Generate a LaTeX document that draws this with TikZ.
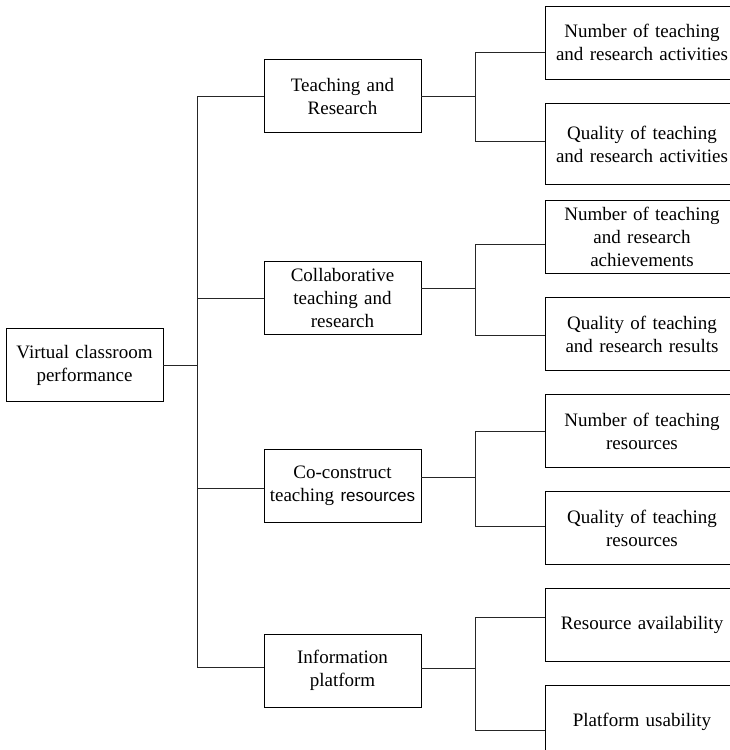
\documentclass[tikz,border=0pt]{standalone}
\usepackage{fontspec}
\setmainfont{Liberation Serif}
\newfontfamily\arialfont{Liberation Sans}
\usepackage{tikz}
\usetikzlibrary{positioning}

\begin{document}
\begin{tikzpicture}[
  x=1pt, y=-1pt,
  node distance=23pt,
  box/.style={rectangle, draw=black, line width=0.9pt, fill=white, align=center, inner sep=0pt, text width=157pt, minimum height=73pt, font=\fontsize{19}{23}\selectfont},
  leaf/.style={box, text width=194pt},
  line/.style={draw=black!85, line width=0.9pt}
]
  \useasboundingbox (0,0) rectangle (730,750);
  \clip (0,0) rectangle (730,750);
  % root and second level
  \node[box] (root) at (84.5,365) {Virtual classroom\\performance};
  \node[box] (teach) at (342.5,96) {Teaching and\\Research};
  \node[box] (collab) at (342.5,298) {Collaborative\\teaching and\\research};
  \node[box] (cocon) at (342.5,485.5) {Co-construct\\teaching {\arialfont\fontsize{17}{23}\selectfont resources}};
  \node[box] (info) at (342.5,670.5) {Information\\platform};
  % third level
  \node[leaf] (nact) at (642,42.5) {Number of teaching\\and research activities};
  \node[leaf, below=24pt of nact, minimum height=81pt] (qact) {Quality of teaching\\and research activities};
  \node[leaf, below=15pt of qact] (nach) {Number of teaching\\and research\\achievements};
  \node[leaf, below=of nach] (qres) {Quality of teaching\\and research results};
  \node[leaf, below=of qres] (nres) {Number of teaching\\resources};
  \node[leaf, below=of nres] (qtres) {Quality of teaching\\resources};
  \node[leaf, below=of qtres] (avail) {Resource availability};
  \node[leaf, below=of avail] (usab) {Platform usability};
  % junctions
  \coordinate (hub) at (197,365);
  \coordinate (j1) at (475,96);
  \coordinate (j2) at (475,288);
  \coordinate (j3) at (475,477);
  \coordinate (j4) at (475,668);
  \draw[line] (root.east) -- (hub);
  \draw[line] (hub) |- (teach.west) (hub) |- (collab.west);
  \draw[line] (hub) |- ([yshift=-2.5pt]cocon.west) (hub) |- ([yshift=3.5pt]info.west);
  \draw[line] (teach.east) -- (j1);
  \draw[line] ([yshift=10pt]collab.east) -- (j2);
  \draw[line] ([yshift=8.5pt]cocon.east) -- (j3);
  \draw[line] ([yshift=2.5pt]info.east) -- (j4);
  \draw[line] (j1) |- ([yshift=-9.5pt]nact.west) (j1) |- ([yshift=2.5pt]qact.west);
  \draw[line] (j2) |- ([yshift=-7.5pt]nach.west) (j2) |- ([yshift=-1.5pt]qres.west);
  \draw[line] (j3) |- (nres.west) (j3) |- ([yshift=1.5pt]qtres.west);
  \draw[line] (j4) |- ([yshift=7.5pt]avail.west) (j4) |- ([yshift=-8.5pt]usab.west);
\end{tikzpicture}
\end{document}
